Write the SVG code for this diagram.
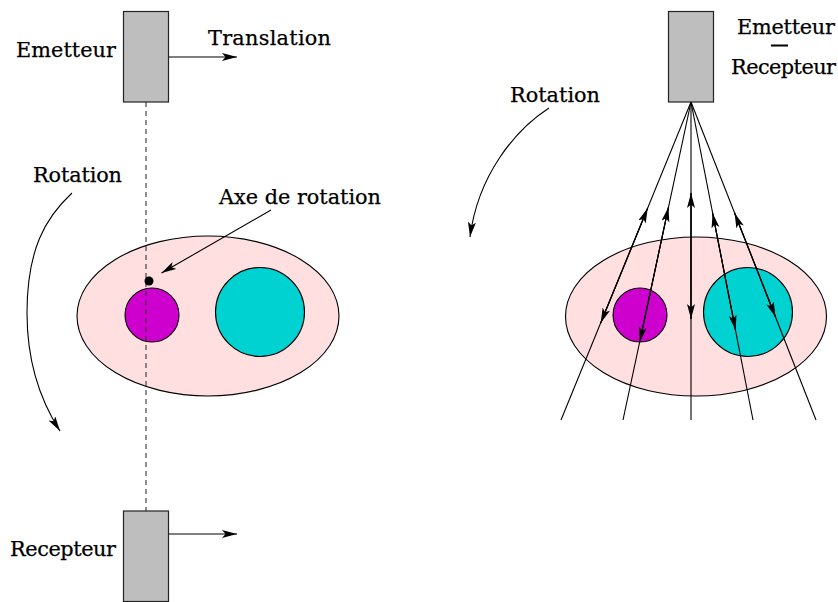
<svg xmlns="http://www.w3.org/2000/svg" width="838" height="602" viewBox="0 0 838 602">
<style>
text{font-family:"DejaVu Serif","Liberation Serif",serif;font-size:20.8px;fill:#000;stroke:#000;stroke-width:.25}
.b{fill:#bebebe;stroke:#222;stroke-width:1.2}
.e{fill:#ffdfdf;stroke:#000;stroke-width:1.1}
.m{fill:#cd00cd;stroke:#000;stroke-width:1.1}
.c{fill:#00d1d1;stroke:#000;stroke-width:1.1}
.l{fill:none;stroke:#000;stroke-width:1.1;marker-end:url(#a)}
.p{fill:none;stroke:#000;stroke-width:1.1}
</style>
<defs><marker id="a" markerUnits="userSpaceOnUse" markerWidth="16" markerHeight="10" refX="15" refY="4" orient="auto"><path d="M0 0L15 4L0 8L3.500 4Z" fill="#000"/></marker></defs>
<g id="left-object"><ellipse class="e" cx="208" cy="316" rx="131" ry="80"/><circle class="m" cx="152" cy="315" r="27"/><circle class="c" cx="260" cy="312" r="44.500"/></g>
<g id="right-object"><ellipse class="e" cx="696" cy="316.500" rx="130.500" ry="79.500"/><circle class="m" cx="640" cy="315" r="27"/><circle class="c" cx="748" cy="312" r="44.500"/></g>
<g id="connectors">
<path class="p" d="M146 102V511" stroke-dasharray="5 4" style="stroke:#333"/>
<path class="l" d="M169 57H237"/><path class="l" d="M169 534H237"/>
<path class="l" d="M271 210L161.500 273"/>
<path class="l" d="M72 193C45 218 27 250 27 313C27 360 40 400 60 431"/>
<path class="l" d="M549 108C515 130 478 175 470 237"/>
<path class="p" d="M691 102L561 420"/><path class="l" d="M600.700 323L647.700 208"/><path class="l" d="M647.700 208L600.700 323"/>
<path class="p" d="M691 102L623 420"/><path class="l" d="M639.700 342L668.500 207"/><path class="l" d="M668.500 207L639.700 342"/>
<path class="p" d="M691 102V420"/><path class="l" d="M691 319V193"/><path class="l" d="M691 193V319"/>
<path class="p" d="M691 102L753 420"/><path class="l" d="M735.500 330L712.600 213"/><path class="l" d="M712.600 213L735.500 330"/>
<path class="p" d="M691 102L816 420"/><path class="l" d="M775.500 317L734.600 213"/><path class="l" d="M734.600 213L775.500 317"/>
</g>
<g id="emetteur"><rect class="b" x="123.500" y="11.500" width="45" height="90.500"/><text x="16" y="57" textLength="100">Emetteur</text></g>
<g id="recepteur"><rect class="b" x="123.500" y="511" width="45" height="90.500"/><text x="10" y="556" textLength="106">Recepteur</text></g>
<g id="emetteur-recepteur"><rect class="b" x="668.500" y="11.500" width="45" height="90.500"/><text x="737" y="34" textLength="98">Emetteur</text><rect x="771" y="44.500" width="17" height="2" fill="#000"/><text x="731" y="74" textLength="105">Recepteur</text></g>
<g id="labels"><text x="208" y="45" textLength="123">Translation</text><text x="33" y="182" textLength="89">Rotation</text><text x="219" y="204" textLength="162">Axe de rotation</text><text x="510" y="102" textLength="90">Rotation</text></g>
<circle id="axis" cx="149" cy="281" r="4.500" fill="#000"/>
</svg>
